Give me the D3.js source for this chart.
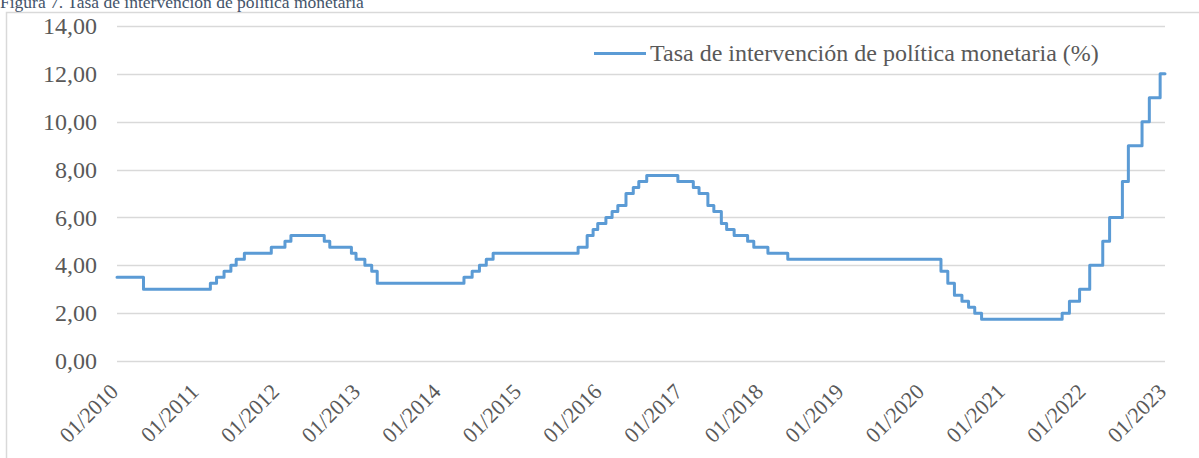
<!DOCTYPE html>
<html>
<head>
<meta charset="utf-8">
<script src="https://cdn.jsdelivr.net/npm/d3@7"></script>
<style>
  body { margin: 0; background: #fff; }
  svg { display: block; }
  svg text { font-family: "Liberation Serif", "Times New Roman", Times, serif; }
</style>
</head>
<body>
<div id="canvas-body"></div>
<script>
// dates where the policy rate changed and the new rate
var changeDates = [
    "2010-01-01", "2010-05-01", "2011-02-28", "2011-03-28", "2011-05-01", "2011-06-01",
    "2011-06-25", "2011-08-01", "2011-12-01", "2012-02-01", "2012-02-28", "2012-07-28",
    "2012-08-22", "2012-11-28", "2012-12-19", "2013-01-28", "2013-02-28", "2013-03-25",
    "2014-04-22", "2014-05-29", "2014-07-01", "2014-08-01", "2014-09-01",
    "2015-09-21", "2015-11-01", "2015-11-28", "2015-12-19", "2016-01-25", "2016-02-22",
    "2016-03-19", "2016-04-25", "2016-05-28", "2016-06-22", "2016-07-28", "2016-12-16",
    "2017-02-24", "2017-03-22", "2017-05-01", "2017-05-28", "2017-07-01", "2017-07-25",
    "2017-08-28", "2017-10-28", "2017-11-25", "2018-01-28", "2018-04-28",
    "2020-03-22", "2020-04-22", "2020-05-22", "2020-06-25", "2020-07-25", "2020-08-22",
    "2020-09-22", "2021-09-22", "2021-10-25", "2021-12-10", "2022-01-25", "2022-03-25",
    "2022-04-25", "2022-06-22", "2022-07-19", "2022-09-19", "2022-10-22", "2022-12-10",
    "2023-01-01"
];
var rates = [
    3.50, 3.00, 3.25, 3.50, 3.75, 4.00,
    4.25, 4.50, 4.75, 5.00, 5.25, 5.00,
    4.75, 4.50, 4.25, 4.00, 3.75, 3.25,
    3.50, 3.75, 4.00, 4.25, 4.50,
    4.75, 5.25, 5.50, 5.75, 6.00, 6.25,
    6.50, 7.00, 7.25, 7.50, 7.75, 7.50,
    7.25, 7.00, 6.50, 6.25, 5.75, 5.50,
    5.25, 5.00, 4.75, 4.50, 4.25,
    3.75, 3.25, 2.75, 2.50, 2.25, 2.00,
    1.75, 2.00, 2.50, 3.00, 4.00, 5.00,
    6.00, 7.50, 9.00, 10.00, 11.00, 12.00,
    12.00
];

// axis ticks
var yTicks = [0, 2, 4, 6, 8, 10, 12, 14];
var xTickYears = [2010, 2011, 2012, 2013, 2014, 2015, 2016, 2017, 2018, 2019, 2020, 2021, 2022, 2023];

var titleText = "Figura 7. Tasa de intervención de política monetaria";
var seriesName = "Tasa de intervención de política monetaria (%)";

const width = 1199, height = 458;
const plot = {left: 117, right: 1165, top: 26, bottom: 361};
const lineColor = "#5B9BD5";

var parse = d3.timeParse("%Y-%m-%d");
var data = changeDates.map(function(d, i){ return {date: parse(d), value: rates[i]}; });

var s = d3.select("#canvas-body")
            .append("svg")
            .attr("width", width)
            .attr("height", height);

// chart frame (right and bottom edges fall outside the picture)
s.append("rect")
    .attr("x", 6.5).attr("y", 12.5)
    .attr("width", 1400).attr("height", 600)
    .attr("fill", "none")
    .attr("stroke", "#d9d9d9")
    .attr("stroke-width", 1.5);

// title, partly cut at the top
s.append("text")
    .attr("x", 0).attr("y", 8)
    .style("font-size", "17.5px")
    .attr("fill", "#44546A")
    .text(titleText);

// scales
var x = d3.scaleTime()
            .domain([new Date(2010, 0, 1), new Date(2023, 0, 1)])
            .range([plot.left, plot.right]);
var y = d3.scaleLinear().domain([0, 14]).range([plot.bottom, plot.top]);

// gridlines
s.append("g")
    .selectAll("line")
    .data(yTicks)
    .enter()
    .append("line")
    .attr("x1", plot.left).attr("x2", plot.right)
    .attr("y1", function(d){ return Math.round(y(d)) + 0.5; })
    .attr("y2", function(d){ return Math.round(y(d)) + 0.5; })
    .attr("stroke", "#d9d9d9")
    .attr("stroke-width", 1.3);

// y axis labels
var yaxis = d3.axisLeft(y)
                .tickValues(yTicks)
                .tickSize(0)
                .tickPadding(20)
                .tickFormat(function(d){ return d.toFixed(2).replace(".", ","); });
var gy = s.append("g")
            .attr("transform", "translate(" + plot.left + ",0)")
            .call(yaxis);
gy.attr("font-family", null);
gy.select(".domain").remove();
gy.selectAll("text")
    .style("font-size", "24px")
    .attr("fill", "#595959");

// x axis labels, rotated
var xaxis = d3.axisBottom(x)
                .tickValues(xTickYears.map(function(yr){ return new Date(yr, 0, 1); }))
                .tickSize(0)
                .tickFormat(d3.timeFormat("%m/%Y"));
var gx = s.append("g")
            .attr("transform", "translate(0," + plot.bottom + ")")
            .call(xaxis);
gx.attr("font-family", null);
gx.select(".domain").remove();
gx.selectAll("text")
    .style("font-size", "22px")
    .attr("fill", "#595959")
    .attr("text-anchor", "end")
    .attr("dy", null)
    .attr("y", null)
    .attr("transform", "translate(2,32) rotate(-45)");

// step line
var linefunc = d3.line()
                .x(function(d){ return x(d.date); })
                .y(function(d){ return y(d.value); })
                .curve(d3.curveStepAfter);
s.append("path")
    .attr("d", linefunc(data))
    .attr("fill", "none")
    .attr("stroke", lineColor)
    .attr("stroke-width", 3)
    .attr("stroke-linejoin", "round")
    .attr("stroke-linecap", "round");

// legend
var lg = s.append("g");
lg.append("line")
    .attr("x1", 594).attr("x2", 646)
    .attr("y1", 53.5).attr("y2", 53.5)
    .attr("stroke", lineColor)
    .attr("stroke-width", 3);
lg.append("text")
    .attr("x", 650).attr("y", 61)
    .style("font-size", "24px")
    .attr("fill", "#595959")
    .text(seriesName);
</script>
</body>
</html>
